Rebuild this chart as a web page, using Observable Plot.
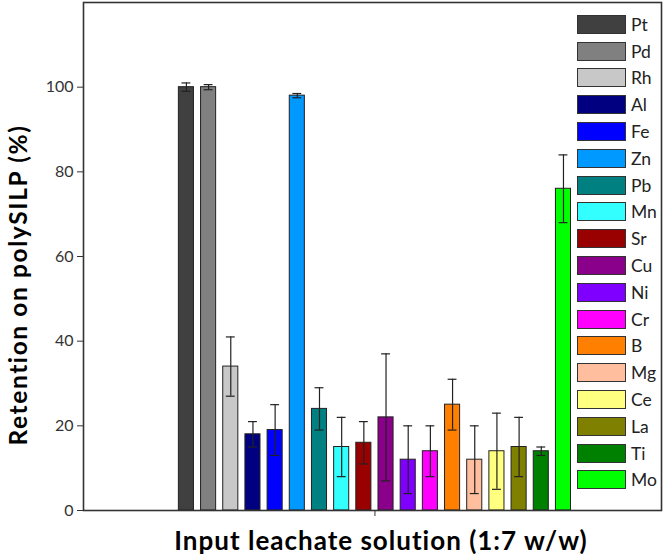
<!DOCTYPE html>
<html><head><meta charset="utf-8">
<script src="https://cdn.jsdelivr.net/npm/d3@7"></script>
<script src="https://cdn.jsdelivr.net/npm/@observablehq/plot@0.6"></script>
<style>
body{margin:0;background:#fff;font-family:Lato,"Open Sans",sans-serif;}
#wrap{position:relative;width:665px;height:559px;}
#legend{position:absolute;left:577px;top:11px;}
.row{display:flex;align-items:center;height:26.8px;}
.sw{width:49px;height:19px;border:1.3px solid #333;box-sizing:border-box;}
.lb{margin-left:5px;font-size:17.5px;color:#222;}
</style></head><body>
<div id="wrap"><div id="legend"></div></div>
<script>
const elements = ["Pt","Pd","Rh","Al","Fe","Zn","Pb","Mn","Sr","Cu","Ni","Cr","B","Mg","Ce","La","Ti","Mo"];
const retention = [100,100,34,18,19,98,24,15,16,22,12,14,25,12,14,15,14,76];
const errors = [1,0.6,7,3,6,0.5,5,7,5,15,8,6,6,8,9,7,1,8];
const colors = ["#404040","#808080","#c8c8c8","#000080","#0000ff","#0099ff","#008080","#33ffff","#990000","#8b008b","#8000ff","#ff00ff","#ff8000","#ffbf9f","#ffff80","#808000","#008000","#00ff00"];
const yTicks = [0,20,40,60,80,100];
const xLabel = "Input leachate solution (1:7 w/w)";
const yLabel = "Retention on polySILP (%)";

const data = elements.map((e,i)=>({el:e,i,v:retention[i],err:errors[i],c:colors[i]}));
const half = 0.34, cap = 0.2;

const chart = Plot.plot({
  width:665, height:559,
  marginLeft:83, marginRight:4, marginTop:2, marginBottom:49,
  style:{fontFamily:"Lato, 'Open Sans', sans-serif", fontSize:"16px", color:"#333"},
  x:{domain:[-4.64,21.42], ticks:[8.5], tickFormat:()=>"", tickSize:6, label:null},
  y:{domain:[0,120], ticks:yTicks, tickSize:6, tickPadding:4, label:null},
  marks:[
    Plot.rectY(data,{x1:d=>d.i-half, x2:d=>d.i+half, y1:0, y2:"v", fill:"c", stroke:"#222", strokeWidth:1}),
    Plot.ruleX(data,{x:"i", y1:d=>d.v-d.err, y2:d=>d.v+d.err, stroke:"#222", strokeWidth:1.2}),
    Plot.ruleY(data,{y:d=>d.v+d.err, x1:d=>d.i-cap, x2:d=>d.i+cap, stroke:"#222", strokeWidth:1.2}),
    Plot.ruleY(data,{y:d=>d.v-d.err, x1:d=>d.i-cap, x2:d=>d.i+cap, stroke:"#222", strokeWidth:1.2}),
    Plot.frame({stroke:"#333", strokeWidth:1.6})
  ]
});
document.getElementById("wrap").prepend(chart);
const svg = d3.select(chart);
svg.append("text").text(xLabel)
  .attr("x",381).attr("y",550).attr("text-anchor","middle")
  .style("font-family","Lato, sans-serif").style("font-weight","bold").style("font-size","26px")
  .style("letter-spacing","1px").style("fill","#000");
svg.append("text").text(yLabel)
  .attr("transform","translate(27,285) rotate(-90)").attr("text-anchor","middle")
  .style("font-family","Lato, sans-serif").style("font-weight","bold").style("font-size","24.5px")
  .style("letter-spacing","1.6px").style("fill","#000");

const leg = d3.select("#legend");
elements.forEach((e,i)=>{
  const r = leg.append("div").attr("class","row");
  r.append("div").attr("class","sw").style("background",colors[i]);
  r.append("div").attr("class","lb").text(e);
});
</script>
</body></html>
